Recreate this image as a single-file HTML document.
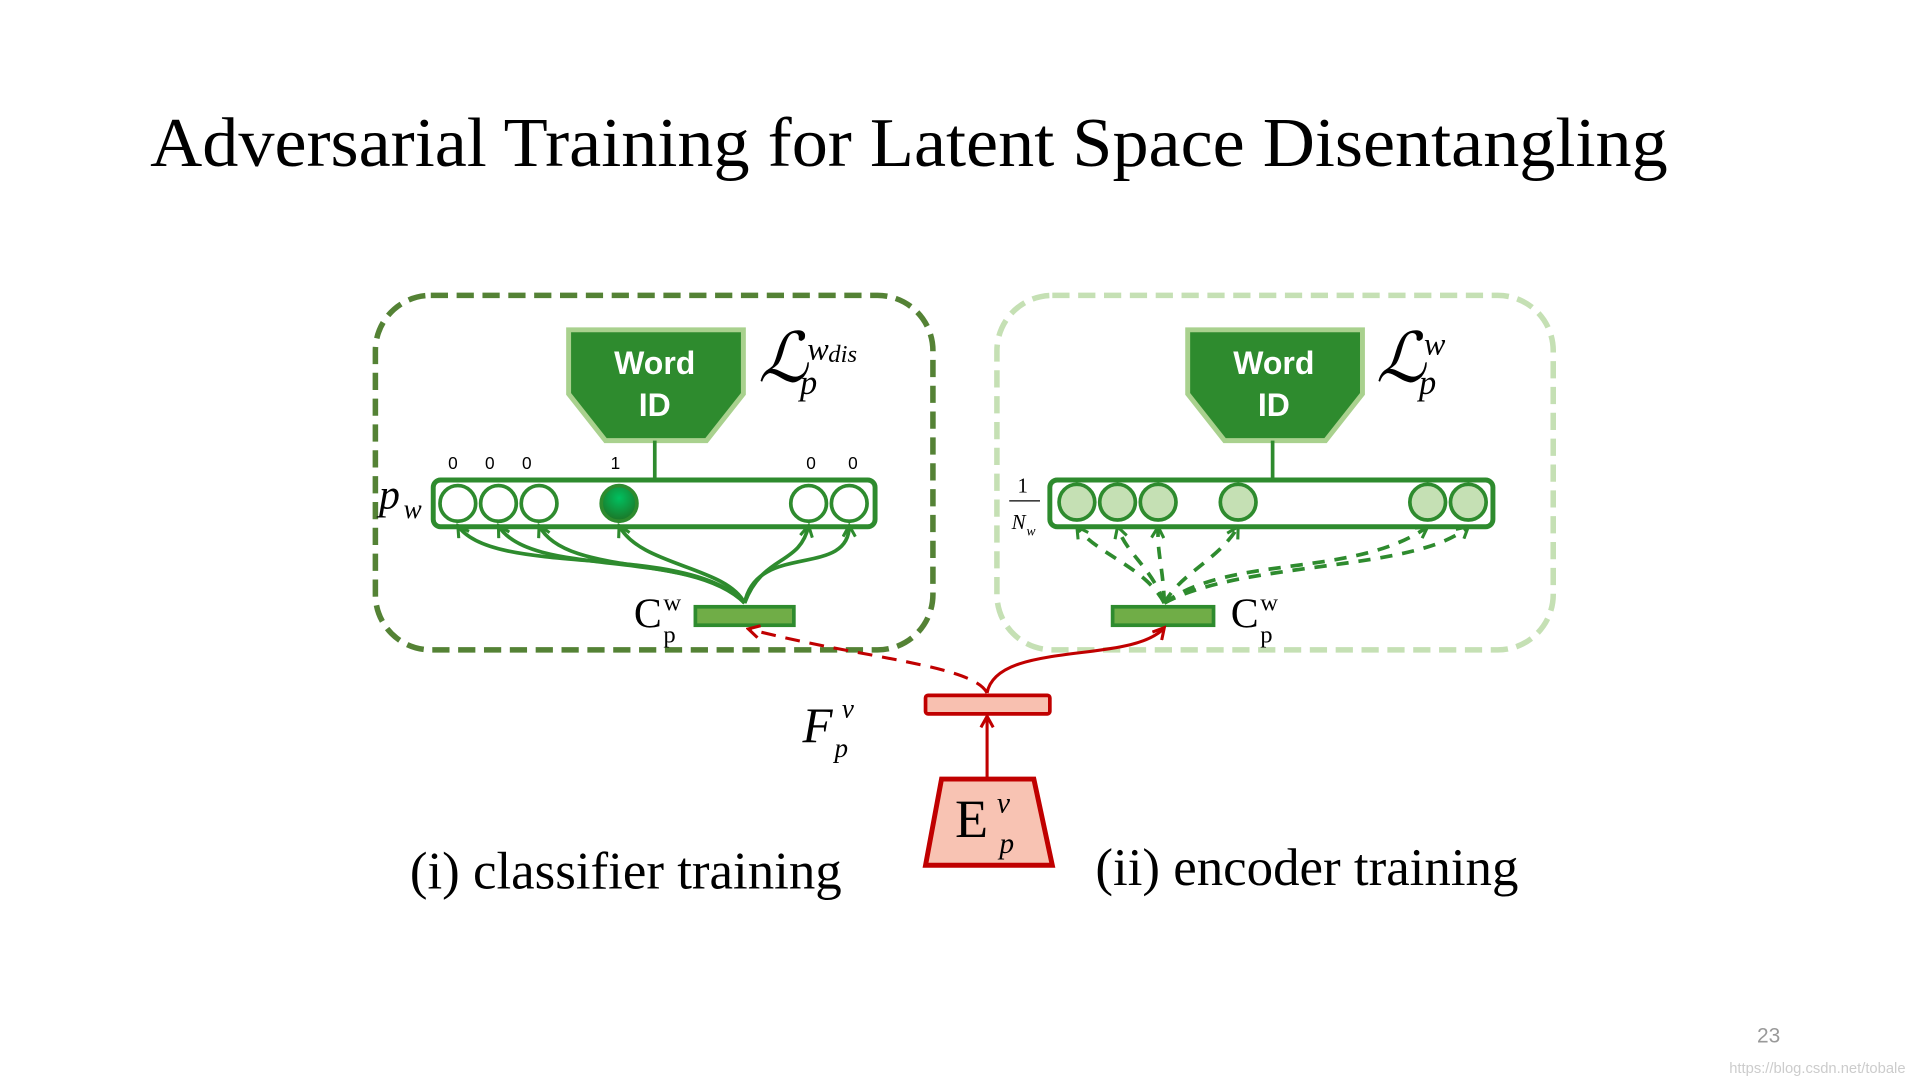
<!DOCTYPE html>
<html><head><meta charset="utf-8"><style>html,body{margin:0;padding:0;background:#fff;width:1920px;height:1080px;overflow:hidden}</style></head>
<body>
<svg width="1920" height="1080" viewBox="0 0 1560 877.5" xmlns="http://www.w3.org/2000/svg" font-family="Liberation Serif, serif">
<defs>
<marker id="ag" markerWidth="12" markerHeight="12" refX="10" refY="6" orient="auto" markerUnits="userSpaceOnUse"><path d="M1,1 L10,6 L1,11" fill="none" stroke="#2e8b2e" stroke-width="2.5"/></marker>
<marker id="ar" markerWidth="12" markerHeight="12" refX="10" refY="6" orient="auto" markerUnits="userSpaceOnUse"><path d="M1,1 L10,6 L1,11" fill="none" stroke="#c00000" stroke-width="2.5"/></marker>
<radialGradient id="gball" cx="0.5" cy="0.35" r="0.6"><stop offset="0" stop-color="#00c060"/><stop offset="1" stop-color="#1a7a2a"/></radialGradient>
</defs>
<text x="122" y="135" font-size="57" textLength="1233" lengthAdjust="spacingAndGlyphs">Adversarial Training for Latent Space Disentangling</text>

<rect x="305" y="240" width="453" height="288" rx="45" fill="none" stroke="#548235" stroke-width="4.5" stroke-dasharray="14,7"/>
<rect x="810" y="240" width="452" height="288" rx="45" fill="none" stroke="#c5e0b4" stroke-width="4.5" stroke-dasharray="14,7"/>

<path d="M462,268 L604,268 L604,320 L574,358 L492,358 L462,320 Z" fill="#2e8b2e" stroke="#a9d18e" stroke-width="4"/>
<text x="532" y="304" font-family="Liberation Sans, sans-serif" font-weight="bold" font-size="26" fill="#fff" text-anchor="middle">Word</text>
<text x="532" y="338" font-family="Liberation Sans, sans-serif" font-weight="bold" font-size="26" fill="#fff" text-anchor="middle">ID</text>
<line x1="532" y1="358" x2="532" y2="390" stroke="#2e8b2e" stroke-width="3"/>
<rect x="352" y="390" width="359" height="38" rx="6" fill="#fff" stroke="#2e8b2e" stroke-width="4"/>
<g fill="#fff" stroke="#2e8b2e" stroke-width="3">
<circle cx="372" cy="409" r="14.5"/><circle cx="405" cy="409" r="14.5"/><circle cx="438" cy="409" r="14.5"/>
<circle cx="657" cy="409" r="14.5"/><circle cx="690" cy="409" r="14.5"/>
</g>
<circle cx="503" cy="409" r="14.5" fill="url(#gball)" stroke="#2e8b2e" stroke-width="3"/>
<g font-family="Liberation Sans, sans-serif" font-size="14" text-anchor="middle">
<text x="368" y="381">0</text><text x="398" y="381">0</text><text x="428" y="381">0</text><text x="500" y="381">1</text><text x="659" y="381">0</text><text x="693" y="381">0</text>
</g>
<text x="308" y="413" font-size="34" font-style="italic">p</text><text x="328" y="421" font-size="22" font-style="italic">w</text>
<text x="616" y="310" font-size="56" font-style="italic" font-family="DejaVu Serif, serif">ℒ</text>
<text x="656" y="292" font-size="26" font-style="italic">w</text><text x="673" y="294" font-size="20" font-style="italic">dis</text>
<text x="650" y="320" font-size="28" font-style="italic">p</text>
<g fill="none" stroke="#2e8b2e" stroke-width="3">
<path d="M605,490 C560,440 400,470 372,427" marker-end="url(#ag)"/>
<path d="M605,490 C560,445 430,470 405,427" marker-end="url(#ag)"/>
<path d="M605,490 C570,450 460,470 438,427" marker-end="url(#ag)"/>
<path d="M605,490 C590,460 520,460 503,427" marker-end="url(#ag)"/>
<path d="M605,490 C620,450 650,460 657,427" marker-end="url(#ag)"/>
<path d="M605,490 C615,440 690,470 690,427" marker-end="url(#ag)"/>
</g>
<rect x="565" y="493" width="80" height="15" fill="#70ad47" stroke="#2e8b2e" stroke-width="3"/>
<text x="515" y="510" font-size="34">C</text><text x="539" y="496" font-size="20">w</text><text x="539" y="522" font-size="20">p</text>

<path d="M965,268 L1107,268 L1107,320 L1077,358 L995,358 L965,320 Z" fill="#2e8b2e" stroke="#a9d18e" stroke-width="4"/>
<text x="1035" y="304" font-family="Liberation Sans, sans-serif" font-weight="bold" font-size="26" fill="#fff" text-anchor="middle">Word</text>
<text x="1035" y="338" font-family="Liberation Sans, sans-serif" font-weight="bold" font-size="26" fill="#fff" text-anchor="middle">ID</text>
<line x1="1034" y1="358" x2="1034" y2="390" stroke="#2e8b2e" stroke-width="3"/>
<rect x="853" y="390" width="360" height="38" rx="6" fill="#fff" stroke="#2e8b2e" stroke-width="4"/>
<g fill="#c5e0b4" stroke="#2e8b2e" stroke-width="3">
<circle cx="875" cy="408" r="14.5"/><circle cx="908" cy="408" r="14.5"/><circle cx="941" cy="408" r="14.5"/>
<circle cx="1006" cy="408" r="14.5"/><circle cx="1160" cy="408" r="14.5"/><circle cx="1193" cy="408" r="14.5"/>
</g>
<text x="831" y="400" font-size="17" text-anchor="middle">1</text>
<line x1="820" y1="407" x2="845" y2="407" stroke="#000" stroke-width="1"/>
<text x="822" y="430" font-size="17" font-style="italic">N</text><text x="834" y="435" font-size="11" font-style="italic">w</text>
<text x="1118" y="310" font-size="56" font-style="italic" font-family="DejaVu Serif, serif">ℒ</text>
<text x="1157" y="288" font-size="26" font-style="italic">w</text>
<text x="1153" y="320" font-size="28" font-style="italic">p</text>
<g fill="none" stroke="#2e8b2e" stroke-width="3" stroke-dasharray="10,8">
<path d="M946,490 C930,460 890,450 875,428" marker-end="url(#ag)"/>
<path d="M946,490 C935,460 915,450 908,428" marker-end="url(#ag)"/>
<path d="M946,490 C945,460 940,450 941,428" marker-end="url(#ag)"/>
<path d="M946,490 C960,465 990,455 1006,428" marker-end="url(#ag)"/>
<path d="M946,490 C1000,450 1100,470 1160,428" marker-end="url(#ag)"/>
<path d="M946,490 C1010,455 1150,465 1193,428" marker-end="url(#ag)"/>
</g>
<rect x="904" y="493" width="82" height="15" fill="#70ad47" stroke="#2e8b2e" stroke-width="3"/>
<text x="1000" y="510" font-size="34">C</text><text x="1024" y="496" font-size="20">w</text><text x="1024" y="522" font-size="20">p</text>

<path d="M802,563 C790,540 700,535 608,511" fill="none" stroke="#c00000" stroke-width="2.5" stroke-dasharray="12,8" marker-end="url(#ar)"/>
<path d="M802,563 C810,520 920,540 946,510" fill="none" stroke="#c00000" stroke-width="2.5" marker-end="url(#ar)"/>
<rect x="752" y="565" width="101" height="15" rx="2" fill="#f8c0b0" stroke="#c00000" stroke-width="3"/>
<line x1="802" y1="633" x2="802" y2="582" stroke="#c00000" stroke-width="2.5" marker-end="url(#ar)"/>
<path d="M765,633 L840,633 L855,703 L752,703 Z" fill="#f8c3b3" stroke="#c00000" stroke-width="4"/>
<text x="776" y="680" font-size="44">E</text><text x="810" y="660" font-size="24" font-style="italic">v</text><text x="812" y="693" font-size="24" font-style="italic">p</text>
<text x="652" y="603" font-size="40" font-style="italic">F</text><text x="684" y="583" font-size="22" font-style="italic">v</text><text x="678" y="615" font-size="22" font-style="italic">p</text>

<text x="333" y="722" font-size="43">(i) classifier training</text>
<text x="890" y="719" font-size="43">(ii) encoder training</text>
<text x="1437" y="847" font-family="Liberation Sans, sans-serif" font-size="17" fill="#999" text-anchor="middle">23</text>
<text x="1405" y="872" font-family="Liberation Sans, sans-serif" font-size="12" fill="#ccc">https://blog.csdn.net/tobale</text>
</svg>
</body></html>
